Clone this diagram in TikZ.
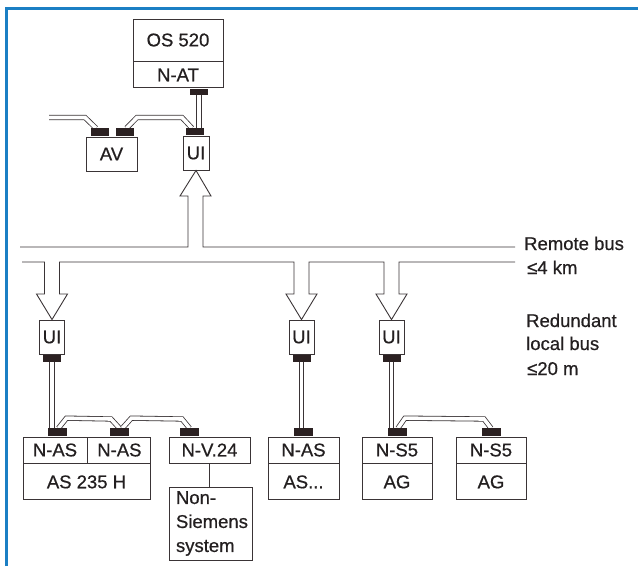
\documentclass[tikz,border=0pt]{standalone}
\usepackage{fontspec}
\setmainfont{Liberation Sans}
\newfontfamily\labelfont{Liberation Sans}[FakeBold=0.6]
\usepackage{xcolor}
\usetikzlibrary{backgrounds}
\definecolor{inkgray}{HTML}{3A3436}
\definecolor{inkblack}{HTML}{231F20}
\definecolor{portblack}{HTML}{2B2122}
\definecolor{frameblue}{HTML}{1B7FC4}
\newcommand{\boxfont}{\labelfont\fontsize{18.5}{24}\selectfont}

\begin{document}
\begin{tikzpicture}[x=1pt,y=-1pt,
		unit/.style={draw=inkgray,line width=0.9pt,fill=white,inner sep=0pt,text=inkblack,font=\boxfont},
		portblk/.style={fill=portblack,inner sep=0pt,minimum width=18pt,minimum height=7pt},
		cable/.style={draw=inkgray,double=white,double distance=3.6pt,line width=0.8pt},
		busline/.style={draw=inkgray,line width=0.9pt},
		note/.style={anchor=base west,inner sep=0pt,text=inkblack,font=\boxfont}]
		\useasboundingbox (0,0) rectangle (638,566);
		\draw[frameblue,line width=3pt](6.5,566)--(6.5,8.5)--(638,8.5);
		\node[unit,minimum width=90pt,minimum height=42pt] (os) at (178,40) {OS 520};
		\node[unit,minimum width=90pt,minimum height=26pt,anchor=north] (nat) at (os.south) {N-AT};
		\node[portblk,minimum height=6pt,anchor=north] (natport) at ([xshift=21pt]nat.south) {};
		\node[unit,minimum width=26pt,minimum height=34pt] (ui0) at (196,153) {UI};
		\node[portblk,anchor=south] (ui0port) at ([xshift=-1pt]ui0.north) {};
		\node[unit,minimum width=51pt,minimum height=34pt] (av) at (111.5,154) {AV};
		\node[portblk,minimum height=8pt,anchor=south] (avportA) at ([xshift=-11.5pt]av.north) {};
		\node[portblk,minimum height=8pt,anchor=south] (avportB) at ([xshift=13pt]av.north) {};
		\coordinate (feed) at (49,117.5);
		\foreach \u/\x in {ui1/52,ui2/301.5,ui3/391.5}{
			\node[unit,minimum width=25pt,minimum height=34pt] (\u) at (\x,337) {UI};
			\node[portblk,anchor=north] (\u port) at (\u.south) {};}
		\node[unit,minimum width=64pt,minimum height=26pt] (nas1) at (55,450) {N-AS};
		\node[unit,minimum width=63pt,minimum height=26pt,anchor=west] (nas2) at (nas1.east) {N-AS};
		\node[unit,minimum width=127pt,minimum height=36pt,anchor=north west] (as235) at (nas1.south west) {AS 235 H};
		\node[unit,minimum width=81pt,minimum height=26pt] (nv24) at (209.5,450) {N-V.24};
		\node[unit,minimum width=83pt,minimum height=73pt,text width=69pt,align=left] (nonsie) at (210.5,523.5) {Non-\\Siemens\\system};
		\node[unit,minimum width=71pt,minimum height=26pt] (nas3) at (303.5,450) {N-AS};
		\node[unit,minimum width=71pt,minimum height=36pt,anchor=north] (asx) at (nas3.south) {AS...};
		\node[unit,minimum width=70pt,minimum height=26pt] (ns5a) at (397,450) {N-S5};
		\node[unit,minimum width=70pt,minimum height=36pt,anchor=north] (aga) at (ns5a.south) {AG};
		\node[unit,minimum width=70pt,minimum height=26pt] (ns5b) at (491,450) {N-S5};
		\node[unit,minimum width=70pt,minimum height=36pt,anchor=north] (agb) at (ns5b.south) {AG};
		\foreach \d/\s in {nas1/2.5,nas2/0,nv24/-20,nas3/0,ns5a/0,ns5b/0}{
			\node[portblk,minimum width=19pt,minimum height=8pt,anchor=south] (\d port) at ([xshift=\s pt]\d.north) {};}
		\begin{scope}[on background layer]
			\draw[cable](natport.south)--(natport.south |- ui0port.north);
			\draw[cable](feed)--(85,117.5)--([xshift=-4pt]avportA.north);
			\draw[cable]([xshift=2pt]avportB.north)--(137,117.5)--(182,117.5)--([xshift=-3pt]ui0port.north);
			\draw[cable](ui1port.south)--(ui1port.south |- nas1port.north);
			\draw[cable](ui2port.south)--(ui2port.south |- nas3port.north);
			\draw[cable](ui3port.south)--(ui3port.south |- ns5aport.north);
			\draw[cable]([xshift=1pt]nas1port.north)--++(8,-10)--(111,419)--(nas2port.north);
			\draw[cable]([xshift=3pt]nas2port.north)--++(9,-10)--(182,419)--(nv24port.north);
			\draw[cable]([xshift=1pt]ns5aport.north)--++(7,-10)--(484,419)--(ns5bport.north);
		\end{scope}
		\draw[busline](nv24.south)--(nv24.south |- nonsie.north);
		\draw[busline](20,247)--(188,247)--(188,196)--(180,196)--(ui0.south)--(211,196)--(203,196)--(203,247)--(515,247);
		\draw[busline](22,262) foreach \c/\u in {52/ui1,301.5/ui2,391.5/ui3}{--(\c-7.5,262)--(\c-7.5,294)--(\c-15.5,294)--(\u.north)--(\c+15.5,294)--(\c+7.5,294)--(\c+7.5,262)}--(515,262);
		\node[note] (rb) at (524,250) {Remote bus};
		\node[note] (rbkm) at (527,274) {≤4 km};
		\node[note] (lb1) at (526,327) {Redundant};
		\node[note] (lb2) at (526,350) {local bus};
		\node[note] (lbm) at (527,375) {≤20 m};
	\end{tikzpicture}
\end{document}
